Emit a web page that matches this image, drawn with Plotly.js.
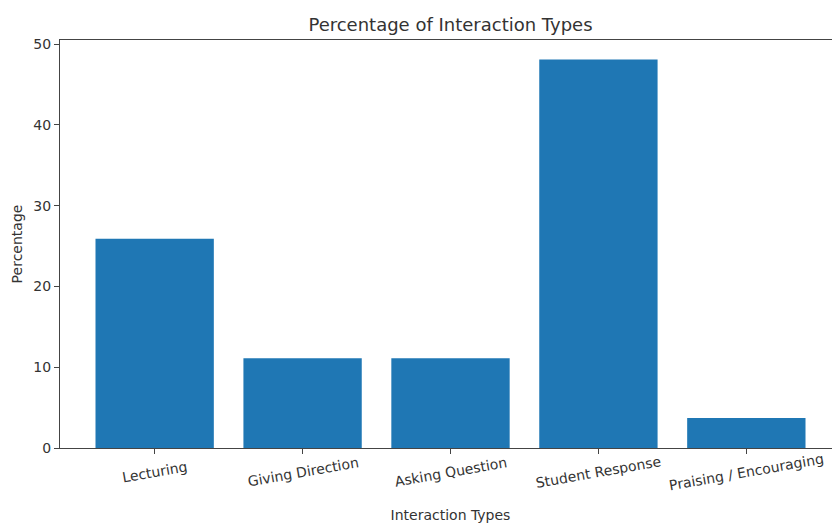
<!DOCTYPE html>
<html>
<head>
<meta charset="utf-8">
<script src="https://cdn.plot.ly/plotly-3.0.1.min.js"></script>
<style>
html,body{margin:0;padding:0;overflow:hidden;background:#fff;width:832px;height:524px;}
#chart{width:861px;height:524px;}
</style>
</head>
<body>
<div id="chart"></div>
<script>
const categories = ["Lecturing", "Giving Direction", "Asking Question", "Student Response", "Praising / Encouraging"];
const percentages = [25.9, 11.1, 11.1, 48.1, 3.7];
const yTicks = [0, 10, 20, 30, 40, 50];

const font = "DejaVu Sans, sans-serif";
const txt = "#333";
const positions = categories.map((c, i) => i);
const trace = {
  type: "bar",
  x: positions,
  y: percentages,
  width: 0.8,
  marker: {color: "#1f77b4", line: {width: 0}},
  hoverinfo: "x+y"
};
const tickAnnotations = categories.map((c, i) => ({
  text: c, x: positions[i], xref: "x", y: 0, yref: "paper",
  xanchor: "center", yanchor: "middle", yshift: -24, textangle: -10,
  showarrow: false, font: {family: font, size: 14, color: txt}
}));
const layout = {
  width: 861, height: 524,
  margin: {l: 60, r: 20, t: 40, b: 76},
  paper_bgcolor: "#fff", plot_bgcolor: "#fff",
  font: {family: font, size: 14, color: txt},
  title: {text: "Percentage of Interaction Types", font: {family: font, size: 18, color: txt},
          x: 0.5, xref: "paper", y: 1 - 25/524, yref: "container", yanchor: "middle"},
  xaxis: {
    range: [-0.64, 4.64],
    tickmode: "array", tickvals: positions, showticklabels: false,
    ticks: "outside", ticklen: 5, tickcolor: "#444", tickwidth: 1,
    showline: true, linecolor: "#444", linewidth: 1, mirror: true,
    showgrid: false, zeroline: false,
    title: {text: "Interaction Types", font: {family: font, size: 14, color: txt}, standoff: 57},
    automargin: false
  },
  yaxis: {
    range: [0, 50.5],
    tickmode: "array", tickvals: yTicks, ticktext: yTicks.map(String),
    ticks: "outside", ticklen: 5, tickcolor: "#444", tickwidth: 1,
    showline: true, linecolor: "#444", linewidth: 1, mirror: true,
    showgrid: false, zeroline: false,
    tickfont: {family: font, size: 14, color: txt},
    title: {text: "Percentage", font: {family: font, size: 14, color: txt}, standoff: 7},
    automargin: false
  },
  annotations: tickAnnotations,
  showlegend: false
};
Plotly.newPlot("chart", [trace], layout, {displayModeBar: false, staticPlot: true});
</script>
</body>
</html>
